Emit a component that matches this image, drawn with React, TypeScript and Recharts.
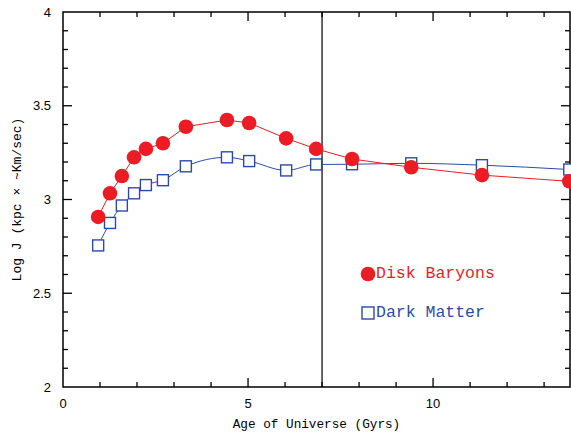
import { ComposedChart, Line, Scatter, XAxis, YAxis, ReferenceLine, ReferenceArea } from "recharts";

const ageGyr = [0.95, 1.27, 1.59, 1.92, 2.24, 2.7, 3.32, 4.43, 5.03, 6.03, 6.84, 7.81, 9.41, 11.32, 13.68];
const diskBaryons = [2.907, 3.033, 3.125, 3.225, 3.27, 3.3, 3.388, 3.424, 3.408, 3.326, 3.27, 3.216, 3.172, 3.13, 3.097];
const darkMatter = [2.755, 2.875, 2.968, 3.033, 3.077, 3.103, 3.177, 3.225, 3.205, 3.155, 3.187, 3.188, 3.193, 3.183, 3.16];

const xDomain = [0, 13.7];
const yDomain = [2, 4];
const xMinorTicks = [1, 2, 3, 4, 5, 6, 7, 8, 9, 10, 11, 12, 13];
const yMinorTicks = [2.1, 2.2, 2.3, 2.4, 2.5, 2.6, 2.7, 2.8, 2.9, 3, 3.1, 3.2, 3.3, 3.4, 3.5, 3.6, 3.7, 3.8, 3.9];
const xLabeled = [0, 5, 10];
const yLabeled = [2, 2.5, 3, 3.5, 4];
const markerAge = 7;

const RED = "#ec1c24";
const BLUE = "#2b4ba6";
const MONO = "'Liberation Mono', monospace";
const SANS = "'Liberation Sans', Arial, sans-serif";

const data = ageGyr.map((a, i) => ({ age: a, disk: diskBaryons[i], dm: darkMatter[i] }));

const isMajor = (v: number, step: number) => Math.abs(v / step - Math.round(v / step)) < 1e-6;

// tick marks as scatter points sitting on the frame
const bottomTicks = xMinorTicks.map(t => ({ age: t, v: yDomain[0], major: isMajor(t, 5) }));
const topTicks = xMinorTicks.map(t => ({ age: t, v: yDomain[1], major: isMajor(t, 5) }));
const leftTicks = yMinorTicks.map(t => ({ age: xDomain[0], v: t, major: isMajor(t, 0.5) }));
const rightTicks = yMinorTicks.map(t => ({ age: xDomain[1], v: t, major: isMajor(t, 0.5) }));

const len = (p: any) => (p.payload && p.payload.major ? 9 : 5);
const BottomMark = (p: any) => <rect x={p.cx - 0.65} y={p.cy - len(p)} width={1.3} height={len(p)} fill="#000" />;
const TopMark = (p: any) => <rect x={p.cx - 0.65} y={p.cy} width={1.3} height={len(p)} fill="#000" />;
const LeftMark = (p: any) => <rect x={p.cx} y={p.cy - 0.65} width={len(p)} height={1.3} fill="#000" />;
const RightMark = (p: any) => <rect x={p.cx - len(p)} y={p.cy - 0.65} width={len(p)} height={1.3} fill="#000" />;

const Square = (p: any) => (
  <rect x={p.cx - 5.5} y={p.cy - 5.5} width={11} height={11} fill="#fff" stroke={BLUE} strokeWidth={1.4} />
);

const Disk = (p: any) => <circle cx={p.cx} cy={p.cy} r={7.3} fill={RED} stroke="none" />;

const tickFont = { fontFamily: SANS, fontSize: 13, fill: "#000" };

export default function App() {
  return (
    <div style={{ position: "absolute", left: 0, top: 0, width: 571, height: 432, background: "#fff" }}>
      <ComposedChart width={571} height={432} data={data} margin={{ top: 12, right: 1, bottom: 0, left: 0 }}>
        <XAxis dataKey="age" type="number" domain={xDomain} ticks={xLabeled} interval={0}
          height={45} tickLine={false} axisLine={false} tickMargin={6} tick={tickFont}
          label={{ value: "Age of Universe  (Gyrs)", position: "insideBottom", offset: 4, fontFamily: MONO, fontSize: 12.7, fill: "#000", style: { whiteSpace: "pre" } }} />
        <YAxis type="number" domain={yDomain} ticks={yLabeled} interval={0} width={63}
          tickLine={false} axisLine={false} tickMargin={6} tick={tickFont}
          label={{ value: "Log J (kpc × ~Km/sec)", angle: -90, position: "insideLeft", offset: 16, fontFamily: MONO, fontSize: 13, fill: "#000", style: { textAnchor: "middle" } }} />
        <ReferenceArea x1={xDomain[0]} x2={xDomain[1]} y1={yDomain[0]} y2={yDomain[1]} fill="none" fillOpacity={0} stroke="#000" strokeWidth={1.5} ifOverflow="visible" />
        <ReferenceLine x={markerAge} stroke="#000" strokeWidth={1.2} />
        <Scatter data={bottomTicks} dataKey="v" shape={BottomMark} isAnimationActive={false} />
        <Scatter data={topTicks} dataKey="v" shape={TopMark} isAnimationActive={false} />
        <Scatter data={leftTicks} dataKey="v" shape={LeftMark} isAnimationActive={false} />
        <Scatter data={rightTicks} dataKey="v" shape={RightMark} isAnimationActive={false} />
        <Line dataKey="dm" type="monotone" stroke={BLUE} strokeWidth={1} dot={Square} isAnimationActive={false} />
        <Line dataKey="disk" type="linear" stroke={RED} strokeWidth={1} dot={Disk} isAnimationActive={false} />
      </ComposedChart>
      <div style={{ position: "absolute", left: 360, top: 264, fontFamily: MONO, fontSize: 16.5, color: RED, display: "flex", alignItems: "center" }}>
        <svg width={16} height={16}><circle cx={8} cy={8} r={7.3} fill={RED} /></svg>
        <span>Disk Baryons</span>
      </div>
      <div style={{ position: "absolute", left: 360, top: 303, fontFamily: MONO, fontSize: 16.5, color: BLUE, display: "flex", alignItems: "center" }}>
        <svg width={16} height={16}><rect x={2} y={2} width={12} height={12} fill="#fff" stroke={BLUE} strokeWidth={1.4} /></svg>
        <span>Dark Matter</span>
      </div>
    </div>
  );
}
